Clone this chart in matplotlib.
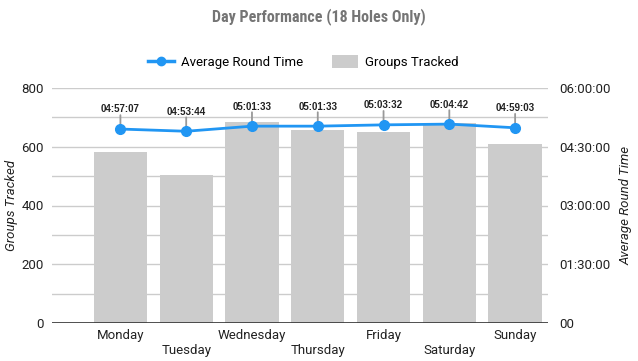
import matplotlib
matplotlib.use("Agg")
import matplotlib.pyplot as plt
from matplotlib.lines import Line2D
from matplotlib.patches import Patch
from matplotlib.ticker import FixedLocator, FuncFormatter
import numpy as np

days = ["Monday", "Tuesday", "Wednesday", "Thursday", "Friday", "Saturday", "Sunday"]
groups = [582, 503, 684, 657, 649, 680, 609]
round_time_labels = ["04:57:07", "04:53:44", "05:01:33", "05:01:33", "05:03:32", "05:04:42", "04:59:03"]

def to_sec(s):
    h, m, x = map(int, s.split(":"))
    return h * 3600 + m * 60 + x

round_secs = [to_sec(s) for s in round_time_labels]

BLUE = "#2196f3"
BAR = "#cccccc"
GRID = "#cccccc"
TXT = "#222222"

plt.rcParams['font.family'] = ['Roboto', 'DejaVu Sans']

fig = plt.figure(figsize=(6.38, 3.61), dpi=100)
ax = fig.add_axes([52/638, 1-323/361, (548-52)/638, (323-88)/361])
x = np.arange(len(days))
ax.bar(x, groups, width=0.81, color=BAR, zorder=2)
ax.set_xlim(-1.04, 6.5)
ax.set_ylim(0, 800)
ax.yaxis.set_major_locator(FixedLocator([0, 200, 400, 600, 800]))
ax.yaxis.set_minor_locator(FixedLocator([100, 300, 500, 700]))
ax.grid(axis='y', which='both', color=GRID, lw=1, zorder=0)
for s in ax.spines.values():
    s.set_visible(False)
ax.axhline(0, color="#333333", lw=1.2, zorder=3)
ax.tick_params(axis='y', which='both', length=0, labelsize=9.5, labelcolor=TXT, pad=6)
ax.set_xticks(x)
ax.set_xticklabels([d if i % 2 == 0 else "\n" + d for i, d in enumerate(days)])
ax.tick_params(axis='x', length=0, labelsize=9.5, labelcolor=TXT, pad=4)
ax.set_ylabel("Groups Tracked", style='italic', fontsize=9.5, color=TXT)
ax.yaxis.set_label_coords((18 - 52) / 496, 0.5)

ax2 = ax.twinx()
ax2.set_ylim(0, 21600)
ax2.yaxis.set_major_locator(FixedLocator([0, 5400, 10800, 16200, 21600]))
def fmt(v, p):
    v = int(round(v))
    if v == 0:
        return "00"
    return "%02d:%02d:%02d" % (v // 3600, (v % 3600) // 60, v % 60)
ax2.yaxis.set_major_formatter(FuncFormatter(fmt))
for s in ax2.spines.values():
    s.set_visible(False)
ax2.tick_params(axis='y', length=0, labelsize=9.5, labelcolor=TXT, pad=8)
ax2.set_ylabel("Average Round Time", style='italic', fontsize=9.5, color=TXT)
ax2.yaxis.set_label_coords((620 - 52) / 496, 0.5)
ax2.plot(x, round_secs, color=BLUE, lw=2, marker='o', ms=7, zorder=5)
for xi, yi, lab in zip(x, round_secs, round_time_labels):
    ax2.annotate("", xy=(xi, yi), xytext=(0, 10), textcoords='offset points',
                 xycoords='data', arrowprops=dict(arrowstyle='-', color='#999999', lw=1.3, shrinkA=0, shrinkB=0))
    ax2.annotate(lab, xy=(xi, yi), xytext=(0, 10.5), textcoords='offset points',
                 ha='center', va='bottom', fontsize=7, fontweight='bold', color=TXT,
                 family=['Liberation Sans', 'DejaVu Sans'])

fig.text(0.5, 1-17/361, "Day Performance (18 Holes Only)", ha='center', va='center',
         fontsize=11.5, fontweight='bold', color='#757575',
         family=['Liberation Sans Narrow', 'Roboto Condensed', 'DejaVu Sans'])

handles = [Line2D([0], [0], color=BLUE, lw=2.5, marker='o', ms=6),
           Patch(facecolor=BAR, edgecolor='none')]
fig.legend(handles, ["Average Round Time", "Groups Tracked"], loc='center',
           bbox_to_anchor=(303/638, 1-62/361), ncol=2, frameon=False, fontsize=9.5,
           handlelength=2.0, handleheight=1.1, columnspacing=2.2, handletextpad=0.5)

fig.savefig("out.png", dpi=100)
